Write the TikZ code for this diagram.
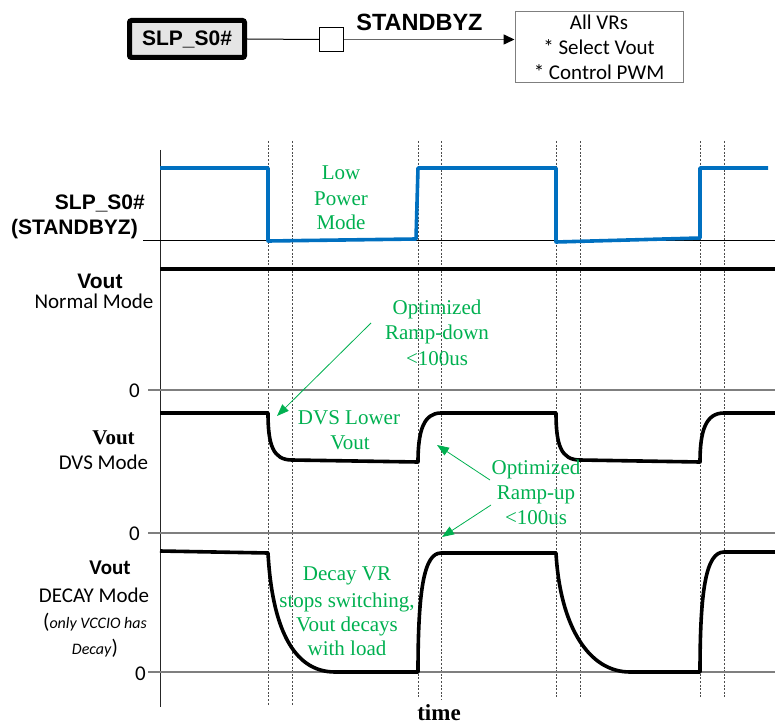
\documentclass[tikz,border=0pt]{standalone}
\usepackage{fontspec}
\setmainfont{Liberation Serif}
\newfontfamily\arialf{Liberation Sans}
\newfontfamily\calibrif{Carlito}
\usetikzlibrary{arrows.meta}
\definecolor{vblue}{HTML}{0070C0}
\definecolor{vgreen}{HTML}{00B050}
\definecolor{zgray}{HTML}{7F7F7F}
\begin{document}
\begin{tikzpicture}[x=1pt,y=-1pt,
  lbl/.style={inner sep=0pt, text height=15pt, text depth=0pt},
  ar/.style={lbl, font=\arialf\bfseries\fontsize{21}{25}\selectfont},
  ca/.style={lbl, font=\calibrif\fontsize{21}{25}\selectfont},
  cab/.style={lbl, font=\calibrif\bfseries\fontsize{21}{25}\selectfont},
  tb/.style={lbl, font=\bfseries\fontsize{21}{25}\selectfont},
  gt/.style={lbl, text=vgreen, font=\fontsize{21}{25}\selectfont},
  wave/.style={line width=3.6pt, line join=round, line cap=butt},
  dotline/.style={draw=black!70, line width=0.8pt, dash pattern=on 2pt off 1.6pt},
  zline/.style={draw=zgray, line width=1.5pt},
  garrow/.style={draw=vgreen, line width=0.8pt, -{Triangle[length=12pt,width=9pt]}}
]
\useasboundingbox (0,0) rectangle (775,727);

% ---------- top block diagram ----------
\node[draw, line width=5pt, fill=black!10, rounded corners=2pt,
      minimum width=115pt, minimum height=37pt, inner sep=0pt,
      font=\arialf\bfseries\fontsize{21}{25}\selectfont] (slp) at (187,39) {SLP\_S0\#};
\node[draw, line width=1pt, minimum size=24pt, inner sep=0pt] (sq) at (331.5,39.5) {};
\node[draw=zgray, line width=1pt, minimum width=168pt, minimum height=71pt, inner sep=0pt,
      align=center, font=\calibrif\fontsize{21}{25}\selectfont] (vr) at (599,47.5)
      {All VRs\\* Select Vout\\* Control PWM};
\node[lbl, font=\arialf\bfseries\fontsize{23.5}{26}\selectfont] (stby) at (419.5,23) {STANDBYZ};
\draw[line width=1pt] (slp.east) -- (sq.west);
\draw[draw=black!60, line width=1.6pt, -{Triangle[length=11pt,width=10pt,color=black]}]
  (sq.east) -- (sq.east -| vr.west);

% ---------- timing diagram ----------
\foreach \xx/\yb in {268/706, 292/706, 418/697, 441/700, 556/697, 580/697, 700/697, 724/697}
  \draw[dotline] (\xx,141) -- (\xx,\yb);

\draw[black!85, line width=1pt] (160,150) -- (160,707);
\draw[line width=0.8pt] (143,240) -- (775,240);
\draw[zline] (148,390) -- (775,390);
\draw[zline] (148,533) -- (775,533);
\draw[zline] (148,672) -- (775,672);

% SLP_S0# signal
\draw[wave, vblue] (160,168) -- (268,168) -- (268,241) -- (416,239) -- (418,168)
  -- (556,168) -- (556,242) -- (700,238) -- (700,168) -- (768,168);

% Vout normal
\draw[wave] (160,269) -- (775,269);

% Vout DVS
\draw[wave] (160,413) -- (268,413) .. controls (268,445) and (273,460) .. (292,460)
  -- (418,462) .. controls (418,430) and (424,413) .. (441,413)
  -- (556,413) .. controls (556,445) and (561,460) .. (580,460)
  -- (700,462) .. controls (700,430) and (706,413) .. (724,413) -- (775,413);

% Vout DECAY
\draw[wave] (160,551) -- (268,553) .. controls (272,625) and (292,672) .. (335,672)
  -- (418,672) .. controls (418,590) and (424,553) .. (441,553)
  -- (556,553) .. controls (560,625) and (588,672) .. (630,672)
  -- (700,672) .. controls (700,590) and (706,552) .. (724,552) -- (775,552);

% left labels
\node[ar, anchor=east] (l1) at (145,202) {SLP\_S0\#};
\node[ar, anchor=east] (l2) at (138,227) {(STANDBYZ)};
\node[ar] (l3) at (100,281) {Vout};
\node[ca] (l4) at (94,301) {Normal Mode};
\node[ca, anchor=east] (z1) at (140,390) {0};
\node[tb] (l5) at (113.5,437) {Vout};
\node[ca] (l6) at (103.5,462) {DVS Mode};
\node[ca, anchor=east] (z2) at (140,533) {0};
\node[cab] (l7) at (110,567) {Vout};
\node[ca] (l8) at (94,595) {DECAY Mode};
\node[ca] (l9) at (95,621) {(\textit{\fontsize{16}{20}\selectfont only VCCIO has}};
\node[ca] (l10) at (95,647) {\textit{\fontsize{16}{20}\selectfont Decay})};
\node[ca, anchor=east] (z3) at (146,673) {0};
\node[lbl, font=\bfseries\fontsize{23}{27}\selectfont] (tm) at (439,713) {time};

% green annotations
\node[gt] (g1) at (341,172) {Low};
\node[gt] (g2) at (341,198) {Power};
\node[gt] (g3) at (341,222) {Mode};
\node[gt] (g4) at (437,307) {Optimized};
\node[gt] (g5) at (437,332) {Ramp-down};
\node[gt] (g6) at (437,358) {<100us};
\node[gt] (g7) at (349,417) {DVS Lower};
\node[gt] (g8) at (350,442) {Vout};
\node[gt] (g9) at (536,467) {Optimized};
\node[gt] (g10) at (536,492) {Ramp-up};
\node[gt] (g11) at (536,517) {<100us};
\node[gt] (g12) at (347,573) {Decay VR};
\node[gt] (g13) at (347,600) {stops switching,};
\node[gt] (g14) at (347,624) {Vout decays};
\node[gt] (g15) at (347,648) {with load};

\coordinate (a1s) at (371,323);
\coordinate (a1e) at (277,416);
\coordinate (a2s) at (490,480);
\coordinate (a2e) at (437,445);
\coordinate (a3s) at (491,505);
\coordinate (a3e) at (442,537);
\draw[garrow] (a1s) -- (a1e);
\draw[garrow] (a2s) -- (a2e);
\draw[garrow] (a3s) -- (a3e);
\end{tikzpicture}
\end{document}
